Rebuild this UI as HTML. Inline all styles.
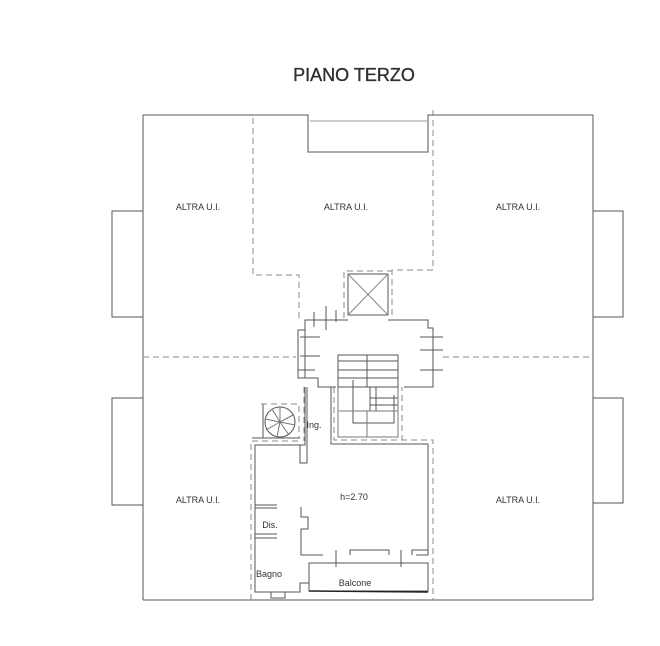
<!DOCTYPE html>
<html><head><style>body{margin:0;background:#fff}svg{display:block}text{font-family:"Liberation Sans",sans-serif;fill:#333}</style></head><body>
<svg width="660" height="646" viewBox="0 0 660 646" xmlns="http://www.w3.org/2000/svg">
<g fill="none" stroke="#555" stroke-width="1">
<path d="M143 115 H308 V152 H428 V115 H433"/>
<line x1="143" y1="115" x2="143" y2="600"/>
<line x1="143" y1="600" x2="593" y2="600"/>
<line x1="593" y1="115" x2="593" y2="600"/>
<line x1="433" y1="115" x2="593" y2="115"/>
<line x1="310" y1="121" x2="428" y2="121" stroke="#999"/>
<path d="M143 211 H112 V317 H143"/>
<path d="M143 398 H112 V505 H143"/>
<path d="M593 211 H623 V317 H593"/>
<path d="M593 398 H623 V503 H593"/>
<rect x="348" y="274" width="40" height="41"/>
<path d="M348 274 L388 315 M388 274 L348 315" stroke="#888"/>
<path d="M305 330 V320 H348 M388 320 H428 V328 H433 V387 H404 M336 387 H318 V378 H305 V330 H298"/>
<path d="M305 330 H298 V378 H305" />
<path d="M314 312 V327 M326 306 V330 M336 310 V322 M300 337 H320 M300 356 H320 M298 370 H315 M420 337 H443 M420 350 H443 M420 370 H443"/>
<rect x="338" y="355" width="60" height="32"/>
<path d="M367 355 V387 M338 361 H398 M338 370 H398 M338 378 H398 M370 387 V411 M376 387 V411 M370 398 H398 M370 405 H398 M353 380 V423 H394 V395"/>
<path d="M338 387 V437 H398 V387 M367 411 V437 M339 411 H398" stroke="#777"/>
<path d="M305 387 V445 H255 V592 H300 V583 H309 V563 M300 445 V463 H307 V387"/>
<path d="M331 387 V444 H428 V555 H416 M331 444"/>
<path d="M300 463 H307 M255 505 H277 M255 534 H277 M255 508 H277 M255 538 H277"/>
<path d="M301 507 V517 H308 V529 H301 V540 V555 H323 M350 555 V550 H389 V555 M412 555 V550 H428"/>
<path d="M309 563 H428 V591 H309 Z"/>
<line x1="309" y1="591" x2="428" y2="592" stroke="#222" stroke-width="1.5"/>
<path d="M336 550 V567 M401 550 V567"/>
<path d="M271 592 V598 H285 V592"/>
<circle cx="280" cy="422" r="15"/>
<path d="M280 422 L280 407 M280 422 L293 415 M280 422 L295 425 M280 422 L289 435 M280 422 L277 437 M280 422 L266 430 M280 422 L265 419 M280 422 L272 409" stroke="#777"/>
<path d="M252 438 H300 M263 404 V438"/>
</g>
<g fill="none" stroke="#888" stroke-width="1" stroke-dasharray="6,4">
<path d="M253 118 V275 H299 V320"/>
<path d="M433 110 V270 H392 V318 M344 318 V271 H392"/>
<line x1="143" y1="357" x2="296" y2="357"/>
<line x1="443" y1="357" x2="593" y2="357"/>
<path d="M251 600 V441 H300 M401 440 H433 V600"/>
<path d="M331 440 V441 M304 387 V441"/>
<path d="M334 387 V440 H402 V387"/>
<path d="M261 404 H299 V438"/>
</g>
<text x="354" y="81" font-size="18" text-anchor="middle" fill="#111" stroke="#111" stroke-width="0.3">PIANO TERZO</text>
<g font-size="9" text-anchor="middle">
<text x="198" y="210">ALTRA U.I.</text>
<text x="346" y="210">ALTRA U.I.</text>
<text x="518" y="210">ALTRA U.I.</text>
<text x="198" y="503">ALTRA U.I.</text>
<text x="518" y="503">ALTRA U.I.</text>
<text x="354" y="500">h=2.70</text>
<text x="270" y="528">Dis.</text>
<text x="269" y="577">Bagno</text>
<text x="355" y="586">Balcone</text>
<text x="314" y="428">Ing.</text>
</g>
</svg>
</body></html>
